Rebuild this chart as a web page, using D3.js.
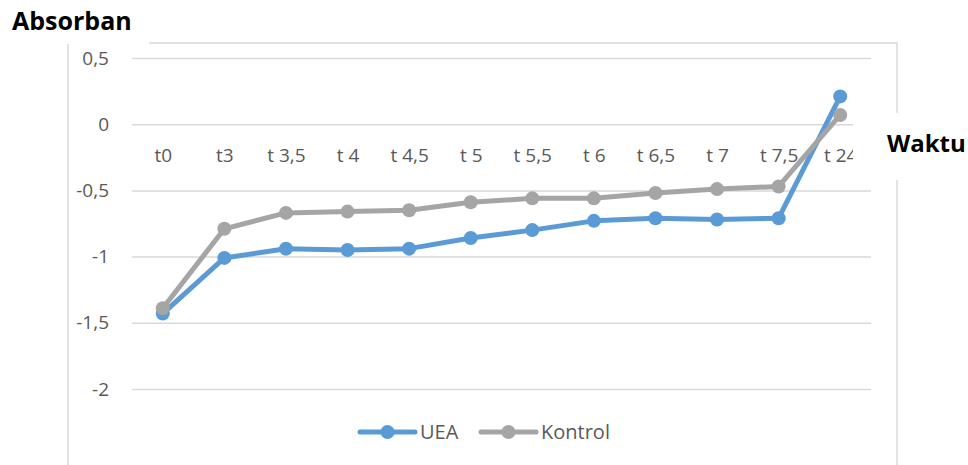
<!DOCTYPE html>
<html>
<head>
  <meta charset="utf-8">
  <script src="https://cdnjs.cloudflare.com/ajax/libs/d3/7.8.5/d3.min.js"></script>
  <title>Absorban</title>
  <style>
    body { margin: 0; background: #fff; }
    text { font-family: "Open Sans", sans-serif; }
  </style>
</head>
<body>
<script>
// categories (waktu) and the two series
const waktu = ["t0", "t3", "t 3,5", "t 4", "t 4,5", "t 5", "t 5,5", "t 6", "t 6,5", "t 7", "t 7,5", "t 24"];
const uea     = [-1.43, -1.01, -0.94, -0.95, -0.94, -0.86, -0.80, -0.73, -0.71, -0.72, -0.71, 0.21];
const kontrol = [-1.39, -0.79, -0.67, -0.66, -0.65, -0.59, -0.56, -0.56, -0.52, -0.49, -0.47, 0.07];
const yTicks = [0.5, 0, -0.5, -1, -1.5, -2];

const series = [
  { name: "UEA", values: uea, color: "#5b9bd5" },
  { name: "Kontrol", values: kontrol, color: "#a5a5a5" }
];

const W = 968, H = 465;
const svg = d3.select("body").append("svg")
    .attr("width", W)
    .attr("height", H);

// chart frame
svg.append("rect")
    .attr("x", 68).attr("y", 43)
    .attr("width", 829).attr("height", 440)
    .attr("fill", "#fff")
    .attr("stroke", "#d9d9d9")
    .attr("stroke-width", 1.5);

const x = d3.scalePoint()
    .domain(waktu)
    .range([132, 871])
    .padding(0.5);

const y = d3.scaleLinear()
    .domain([-2, 0.5])
    .range([389, 58]);

const fmt = d => String(d).replace(".", ",");

// gridlines + y labels
const yAxis = d3.axisLeft(y)
    .tickValues(yTicks)
    .tickSize(-(871 - 132))
    .tickPadding(23)
    .tickFormat(fmt);

const gy = svg.append("g")
    .attr("transform", "translate(132,0)")
    .call(yAxis);
gy.select(".domain").remove();
gy.selectAll(".tick line").attr("stroke", "#d9d9d9").attr("stroke-width", 1.5);
gy.selectAll(".tick text")
    .attr("fill", "#595959")
    .style("font-size", "19px");

// category axis crossing at zero
const xAxis = d3.axisBottom(x).tickSize(0).tickPadding(24);
const gx = svg.append("g")
    .attr("transform", "translate(0," + y(0) + ")")
    .call(xAxis);
gx.select(".domain").remove();
gx.selectAll(".tick text")
    .attr("fill", "#595959")
    .style("font-size", "19px");

// lines and markers
const line = d3.line()
    .x((d, i) => x(waktu[i]))
    .y(d => y(d));

series.forEach(s => {
  svg.append("path")
      .datum(s.values)
      .attr("d", line)
      .attr("fill", "none")
      .attr("stroke", s.color)
      .attr("stroke-width", 5)
      .attr("stroke-linejoin", "round");
  svg.append("g").selectAll("circle")
      .data(s.values)
      .enter().append("circle")
      .attr("cx", (d, i) => x(waktu[i]))
      .attr("cy", d => y(d))
      .attr("r", 7)
      .attr("fill", s.color);
});

// axis titles on white boxes
svg.append("rect").attr("x", 0).attr("y", 0).attr("width", 149).attr("height", 44).attr("fill", "#fff");
svg.append("text")
    .attr("x", 12).attr("y", 30)
    .style("font-size", "25px").style("font-weight", "bold")
    .attr("fill", "#000")
    .text("Absorban");

svg.append("rect").attr("x", 853).attr("y", 113).attr("width", 115).attr("height", 67).attr("fill", "#fff");
svg.append("text")
    .attr("x", 887).attr("y", 152)
    .style("font-size", "24px").style("font-weight", "bold")
    .attr("fill", "#000")
    .text("Waktu");

// legend
const legendX = [360, 481];
series.forEach((s, i) => {
  const g = svg.append("g").attr("transform", "translate(" + legendX[i] + ",432)");
  g.append("line")
      .attr("x1", 0).attr("x2", 55)
      .attr("stroke", s.color).attr("stroke-width", 5)
      .attr("stroke-linecap", "round");
  g.append("circle").attr("cx", 27.5).attr("r", 7).attr("fill", s.color);
  g.append("text")
      .attr("x", 60).attr("y", 7)
      .attr("fill", "#595959")
      .style("font-size", "20px")
      .text(s.name);
});
</script>
</body>
</html>
